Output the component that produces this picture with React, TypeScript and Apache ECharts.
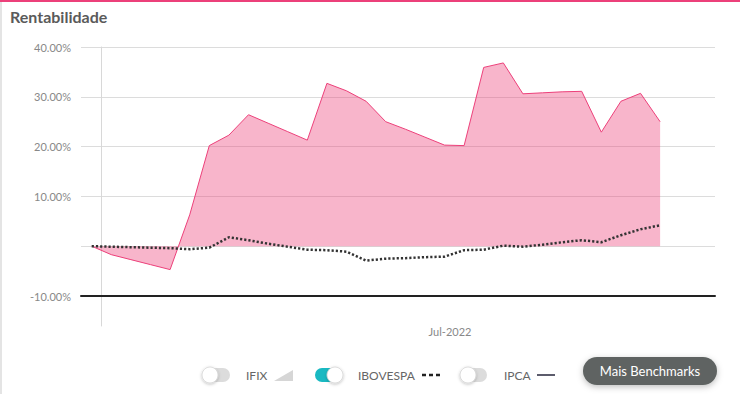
import React, { useEffect, useRef } from "react";
import * as echarts from "echarts";

// IFIX cumulative return (%), one value per observation
const ifix = [
  0, -1.7, -2.7, -3.7, -4.7, 6.3, 20.2, 22.3, 26.4, 24.7,
  23.0, 21.3, 32.7, 31.2, 29.1, 25.0, 23.5, 21.9, 20.3, 20.2,
  35.9, 36.8, 30.6, 30.8, 31.0, 31.1, 22.9, 29.1, 30.7, 25.0,
];
// IBOVESPA cumulative return (%)
const ibovespa = [
  0, -0.1, -0.2, -0.3, -0.4, -0.6, -0.3, 1.8, 1.2, 0.5,
  -0.1, -0.7, -0.8, -1.1, -2.9, -2.5, -2.4, -2.2, -2.1, -0.8,
  -0.7, 0.1, -0.1, 0.3, 0.8, 1.2, 0.8, 2.2, 3.4, 4.2,
];
const xTickLabels = ["Jul-2022"];
const xTickPositions = [18.28];
const legendNames = ["IFIX", "IBOVESPA", "IPCA"];
const buttonLabel = "Mais Benchmarks";
const titleText = "Rentabilidade";

const FONT = "Lato, 'Noto Sans', sans-serif";

export default function App() {
  const ref = useRef<HTMLDivElement>(null);
  useEffect(() => {
    const chart = echarts.init(ref.current!, null, { renderer: "svg" });
    const knob = (cx: number) => ({
      type: "circle",
      shape: { cx, cy: 375, r: 8 },
      style: {
        fill: "#fff",
        stroke: "#d4d4d4",
        lineWidth: 0.8,
        shadowBlur: 3,
        shadowColor: "rgba(0,0,0,0.25)",
        shadowOffsetY: 1,
      },
      z: 11,
    });
    const track = (x: number, fill: string) => ({
      type: "rect",
      shape: { x, y: 368, width: 27, height: 14, r: 7 },
      style: { fill },
      z: 10,
    });
    const legendText = (x: number, text: string) => ({
      type: "text",
      x,
      y: 375,
      style: { text, font: `12px ${FONT}`, fill: "#666", align: "left", verticalAlign: "middle" },
      z: 10,
    });
    chart.setOption({
      animation: false,
      textStyle: { fontFamily: FONT },
      grid: [
        { left: 81, right: 25, top: 47, bottom: 98 },
        { left: 101, width: 1, top: 47, bottom: 68 },
      ],
      xAxis: [
        {
          type: "value",
          gridIndex: 0,
          min: -0.546,
          max: 31.8,
          axisLine: { show: true, onZero: false, lineStyle: { color: "#222", width: 2 } },
          axisTick: { show: false },
          splitLine: { show: false },
          axisLabel: {
            customValues: xTickPositions,
            margin: 30,
            color: "#888",
            fontSize: 11,
            fontFamily: FONT,
            formatter: (v: number) => {
              const i = xTickPositions.indexOf(v);
              return i >= 0 ? xTickLabels[i] : "";
            },
          },
        },
        { type: "value", gridIndex: 1, min: 0, max: 1, show: false },
      ],
      yAxis: [
        {
          type: "value",
          gridIndex: 0,
          min: -10,
          max: 40,
          interval: 10,
          axisLine: { show: false },
          axisTick: { show: false },
          splitLine: { lineStyle: { color: "#dcdcdc", width: 1 } },
          axisLabel: {
            margin: 10,
            color: "#888",
            fontSize: 11,
            fontFamily: FONT,
            formatter: (v: number) => (v === 0 ? "" : v.toFixed(2) + "%"),
          },
        },
        {
          type: "value",
          gridIndex: 1,
          min: 0,
          max: 1,
          axisLine: { show: true, onZero: false, lineStyle: { color: "#d8d8d8", width: 1 } },
          axisTick: { show: false },
          axisLabel: { show: false },
          splitLine: { show: false },
        },
      ],
      series: [
        {
          name: "IFIX",
          type: "line",
          xAxisIndex: 0,
          yAxisIndex: 0,
          data: ifix.map((v, i) => [i, v]),
          symbol: "none",
          lineStyle: { color: "#ec407a", width: 1 },
          itemStyle: { color: "#ec407a" },
          areaStyle: { color: "#ec407a", opacity: 0.39 },
          z: 2,
        },
        {
          name: "IBOVESPA",
          type: "line",
          xAxisIndex: 0,
          yAxisIndex: 0,
          data: ibovespa.map((v, i) => [i, v]),
          symbol: "none",
          lineStyle: { color: "#333", width: 2.5, type: [2.2, 2], cap: "butt" },
          itemStyle: { color: "#333" },
          z: 3,
        },
      ],
      graphic: [
        { type: "rect", shape: { x: 0, y: 0, width: 740, height: 2 }, style: { fill: "#ec407a" }, z: 10 },
        { type: "rect", shape: { x: 0, y: 2, width: 2, height: 392 }, style: { fill: "#e4e4e4" }, z: 10 },
        {
          type: "text",
          x: 10,
          y: 16,
          style: { text: titleText, font: `bold 16px ${FONT}`, fill: "#5a5a5a", align: "left", verticalAlign: "middle" },
          z: 10,
        },
        track(203, "#dcdcdc"),
        knob(210),
        legendText(246, legendNames[0]),
        {
          type: "polygon",
          shape: { points: [[274, 381], [293, 381], [293, 370]] },
          style: { fill: "#d6d6d6" },
          z: 10,
        },
        track(315, "#19b9c2"),
        knob(335),
        legendText(358, legendNames[1]),
        {
          type: "line",
          shape: { x1: 422, y1: 375, x2: 440, y2: 375 },
          style: { stroke: "#222", lineWidth: 2.5, lineDash: [4, 3] },
          z: 10,
        },
        track(460, "#dcdcdc"),
        knob(468),
        legendText(504, legendNames[2]),
        {
          type: "line",
          shape: { x1: 537, y1: 375, x2: 555, y2: 375 },
          style: { stroke: "#5c5c6c", lineWidth: 2 },
          z: 10,
        },
        {
          type: "rect",
          shape: { x: 583, y: 357, width: 134, height: 28, r: 14 },
          style: { fill: "#5f6462", shadowBlur: 6, shadowColor: "rgba(0,0,0,0.25)", shadowOffsetY: 2 },
          z: 10,
        },
        {
          type: "text",
          x: 650,
          y: 371,
          style: { text: buttonLabel, font: `13px ${FONT}`, fill: "#fff", align: "center", verticalAlign: "middle" },
          z: 11,
        },
      ],
    });
    return () => chart.dispose();
  }, []);
  return (
    <div
      ref={ref}
      style={{ position: "fixed", left: 0, top: 0, width: 740, height: 394, background: "#fff" }}
    />
  );
}
